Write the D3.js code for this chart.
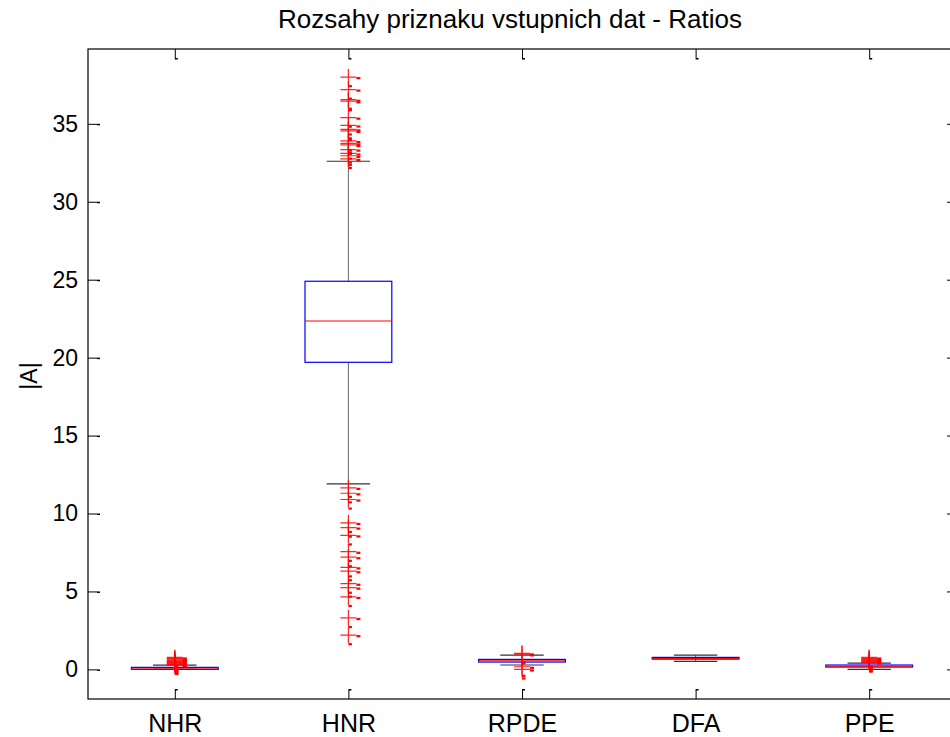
<!DOCTYPE html>
<html>
<head>
<meta charset="utf-8">
<script src="https://cdn.jsdelivr.net/npm/d3@7"></script>
<style>
  body { margin: 0; background: #fff; }
  svg { display: block; font-family: "Liberation Sans", Arial, sans-serif; }
  .axis path { display: none; }
  .axis line { stroke: #000; }
  .axis text { fill: #000; }
</style>
</head>
<body>
<script>
let categories = ['NHR', 'HNR', 'RPDE', 'DFA', 'PPE'];
let q1 = [0.0, 19.7, 0.47, 0.66, 0.15];
let median = [0.03, 22.35, 0.55, 0.70, 0.20];
let q3 = [0.13, 24.9, 0.64, 0.77, 0.28];
let whiskerLow = [0.0, 11.9, 0.28, 0.51, 0.0];
let whiskerHigh = [0.27, 32.6, 0.92, 0.92, 0.40];
let outliers = [
  [0.77, 0.70, 0.65, 0.60, 0.55, 0.50, 0.45, 0.40, 0.36, 0.32, 0.29],
  [38.0, 37.2, 36.55, 36.45, 35.4, 34.9, 34.65, 34.55, 33.9, 33.75, 33.65, 33.35, 33.1, 32.95, 32.75,
   11.65, 11.3, 10.9, 9.4, 9.1, 8.6, 7.55, 7.2, 6.55, 6.3, 5.5, 5.25, 4.65, 3.3, 2.2],
  [1.03, 0.97, 0.17, 0.0],
  [],
  [0.77, 0.70, 0.64, 0.58, 0.53, 0.48, 0.44]
];
let yTicks = [0, 5, 10, 15, 20, 25, 30, 35];

let margin = {left: 88, top: 49, right: -6, bottom: 38};
let W = 950, H = 737;
let width = W - margin.left - margin.right;
let height = H - margin.top - margin.bottom;

let svg = d3.select('body').append('svg')
  .attr('width', W)
  .attr('height', H);

let x = d3.scaleLinear().domain([0.5, categories.length + 0.5]).range([0, width]);
let y = d3.scaleLinear().domain([-1.9, 39.8]).range([height, 0]);

let g = svg.append('g')
  .attr('transform', 'translate(' + margin.left + ',' + margin.top + ')');

// frame
g.append('rect')
  .attr('width', width).attr('height', height)
  .attr('fill', 'none').attr('stroke', '#000').attr('stroke-width', 1.2);

let xt = categories.map((c, i) => i + 1);

g.append('g')
  .attr('class', 'axis')
  .attr('transform', 'translate(0,' + height + ')')
  .call(d3.axisBottom(x).tickValues(xt).tickFormat((d, i) => categories[i])
    .tickSizeInner(-9).tickSizeOuter(0).tickPadding(15))
  .selectAll('text').style('font-size', '25px');

g.append('g')
  .attr('class', 'axis')
  .call(d3.axisLeft(y).tickValues(yTicks).tickSizeInner(-9).tickSizeOuter(0).tickPadding(10))
  .selectAll('text').style('font-size', '23px');

g.append('g')
  .attr('class', 'axis')
  .call(d3.axisTop(x).tickValues(xt).tickFormat('').tickSizeInner(-9).tickSizeOuter(0));

g.append('g')
  .attr('class', 'axis')
  .attr('transform', 'translate(' + width + ',0)')
  .call(d3.axisRight(y).tickValues(yTicks).tickFormat('').tickSizeInner(-9).tickSizeOuter(0));

// small dashes at tick ends (rendering artefact in the original)
g.selectAll('.tdl').data(yTicks).join('rect')
  .attr('x', 9).attr('y', d => y(d)).attr('width', 3).attr('height', 1.5).attr('fill', '#000');
g.selectAll('.tdt').data(xt).join('rect')
  .attr('x', d => x(d)).attr('y', 9).attr('width', 3).attr('height', 1.5).attr('fill', '#000');
g.selectAll('.tdb').data(xt).join('rect')
  .attr('x', d => x(d)).attr('y', height - 10).attr('width', 3).attr('height', 1.5).attr('fill', '#000');

let bw = x(1.25) - x(1);   // half box width
let cw = x(1.125) - x(1);  // half cap width

let boxes = g.append('g');
categories.forEach((c, i) => {
  let cx = x(i + 1);
  let b = boxes.append('g');
  // whiskers
  b.append('line')
    .attr('x1', cx).attr('x2', cx).attr('y1', y(q3[i])).attr('y2', y(whiskerHigh[i]))
    .attr('stroke', '#6a6a6a').attr('stroke-width', 1);
  b.append('line')
    .attr('x1', cx).attr('x2', cx).attr('y1', y(q1[i])).attr('y2', y(whiskerLow[i]))
    .attr('stroke', '#6a6a6a').attr('stroke-width', 1);
  [whiskerHigh[i], whiskerLow[i]].forEach(v => {
    b.append('line')
      .attr('x1', cx - cw).attr('x2', cx + cw).attr('y1', y(v)).attr('y2', y(v))
      .attr('stroke', '#333').attr('stroke-width', 1.2);
  });
  // box
  b.append('rect')
    .attr('x', cx - bw).attr('width', 2 * bw)
    .attr('y', y(q3[i])).attr('height', Math.max(1, y(q1[i]) - y(q3[i])))
    .attr('fill', 'none').attr('stroke', '#0000ff').attr('stroke-width', 1.2);
  b.append('line')
    .attr('x1', cx - bw).attr('x2', cx + bw).attr('y1', y(median[i])).attr('y2', y(median[i]))
    .attr('stroke', '#ff0000').attr('stroke-width', 1);
  // outliers as '+'
  let m = b.selectAll('g.out').data(outliers[i]).join('g')
    .attr('transform', d => 'translate(' + cx + ',' + y(d) + ')');
  m.append('path')
    .attr('d', 'M-8,0H8M0,-8V8')
    .attr('stroke', '#ff0000').attr('stroke-width', 1.2).attr('fill', 'none').attr('opacity', 0.85);
  m.append('rect')
    .attr('x', 8).attr('y', 0).attr('width', 4).attr('height', 2.2).attr('fill', '#ff0000');
  m.append('rect')
    .attr('x', 0).attr('y', 8).attr('width', 3.5).attr('height', 2.2).attr('fill', '#ff0000');
});

// title and y label
svg.append('text')
  .attr('x', 510).attr('y', 28)
  .attr('text-anchor', 'middle')
  .style('font-size', '26px')
  .text('Rozsahy priznaku vstupnich dat - Ratios');

svg.append('text')
  .attr('transform', 'translate(37,376) rotate(-90)')
  .attr('text-anchor', 'middle')
  .style('font-size', '23px')
  .text('|A|');
</script>
</body>
</html>
